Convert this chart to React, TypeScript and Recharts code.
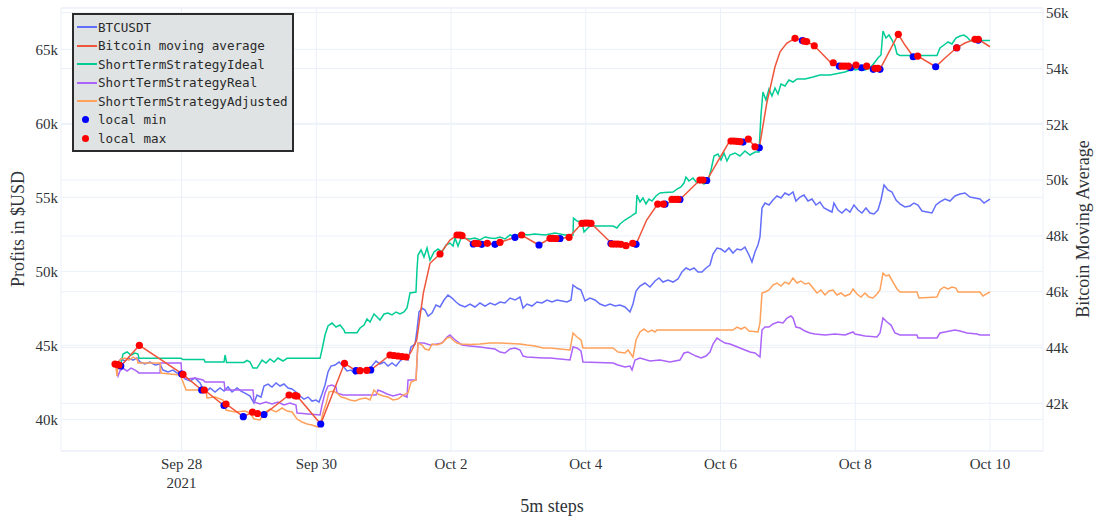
import React from "react";
import { ComposedChart, Line, Scatter, XAxis, YAxis, CartesianGrid } from "recharts";

// x values are days since Sep 28 2021 00:00
const dateTicks = [0, 2, 4, 6, 8, 10, 12];
const dateLabels = ["Sep 28", "Sep 30", "Oct 2", "Oct 4", "Oct 6", "Oct 8", "Oct 10"];
const profitTicks = [40000, 45000, 50000, 55000, 60000, 65000];
const averageTicks = [42000, 44000, 46000, 48000, 50000, 52000, 54000, 56000];

const btcusdt: [number, number][] = [
  [-0.987, 43670], [-0.942, 43870], [-0.898, 44075], [-0.839, 43940], [-0.779, 44140], [-0.72, 44005],
  [-0.66, 44140], [-0.616, 43870], [-0.542, 43735], [-0.468, 43870], [-0.393, 43670], [-0.319, 43735],
  [-0.275, 43330], [-0.2, 43195], [-0.126, 43330], [-0.067, 43130], [-0.007, 43130], [0.052, 42725],
  [0.126, 42590], [0.2, 42790], [0.275, 42455], [0.319, 42050], [0.378, 41910], [0.423, 42115],
  [0.497, 41845], [0.571, 42115], [0.631, 41910], [0.69, 42185], [0.75, 41845], [0.824, 42115],
  [0.883, 41910], [0.942, 41775], [1.017, 41575], [1.076, 41100], [1.121, 41640], [1.18, 41505],
  [1.224, 42250], [1.284, 42385], [1.343, 42185], [1.403, 42455], [1.462, 42250], [1.521, 42385],
  [1.581, 42115], [1.64, 42050], [1.699, 41845], [1.759, 41575], [1.818, 41370], [1.878, 41505],
  [1.937, 41235], [1.996, 41305], [2.041, 41170], [2.085, 41710], [2.13, 42320], [2.174, 43195],
  [2.219, 43600], [2.278, 43670], [2.338, 43870], [2.397, 43600], [2.456, 43265], [2.516, 43330],
  [2.575, 43060], [2.634, 43195], [2.694, 43400], [2.768, 43330], [2.827, 43600], [2.887, 43940],
  [2.946, 43735], [3.006, 43870], [3.065, 43600], [3.124, 43805], [3.184, 43600], [3.243, 43940],
  [3.302, 44140], [3.362, 44005], [3.406, 44885], [3.466, 45090], [3.495, 46035], [3.525, 47250],
  [3.569, 47520], [3.614, 47385], [3.659, 46980], [3.718, 47185], [3.777, 47725], [3.837, 47590],
  [3.896, 48060], [3.955, 48400], [4.015, 48195], [4.074, 47925], [4.133, 47725], [4.208, 47590],
  [4.282, 47790], [4.356, 47590], [4.43, 47860], [4.505, 47655], [4.579, 47860], [4.653, 47725],
  [4.727, 47925], [4.801, 47860], [4.876, 48195], [4.95, 48060], [5.024, 48265], [5.069, 47520],
  [5.128, 47790], [5.202, 47655], [5.276, 47925], [5.351, 47860], [5.425, 48060], [5.499, 47925],
  [5.573, 48060], [5.647, 47995], [5.722, 47925], [5.781, 48060], [5.811, 49075], [5.87, 48870],
  [5.929, 48735], [5.989, 47995], [6.063, 48195], [6.137, 48060], [6.211, 47790], [6.286, 47655],
  [6.36, 47790], [6.434, 47655], [6.508, 47725], [6.582, 47590], [6.657, 47250], [6.701, 47790],
  [6.746, 48670], [6.805, 49005], [6.879, 49210], [6.953, 48940], [7.028, 49345], [7.087, 49550],
  [7.146, 49275], [7.221, 49410], [7.295, 49275], [7.369, 49480], [7.428, 49955], [7.488, 50225],
  [7.547, 50090], [7.607, 50225], [7.666, 49955], [7.725, 49955], [7.785, 50225], [7.844, 50425],
  [7.889, 51170], [7.948, 51575], [8.007, 51505], [8.067, 51305], [8.126, 51575], [8.185, 51235],
  [8.245, 51505], [8.304, 51440], [8.363, 51640], [8.423, 51100], [8.467, 50630], [8.512, 51305],
  [8.556, 51775], [8.586, 52320], [8.616, 54275], [8.66, 54615], [8.72, 54480], [8.779, 54820],
  [8.838, 55090], [8.898, 54955], [8.957, 55290], [9.016, 55155], [9.076, 55360], [9.12, 54750],
  [9.18, 55020], [9.239, 55155], [9.299, 54750], [9.358, 54885], [9.417, 54480], [9.477, 54685],
  [9.536, 54275], [9.595, 54140], [9.655, 54005], [9.684, 54615], [9.744, 54140], [9.803, 53940],
  [9.863, 54210], [9.922, 54005], [9.981, 54480], [10.041, 54140], [10.1, 53940], [10.159, 54275],
  [10.219, 53940], [10.278, 53870], [10.337, 54140], [10.382, 54820], [10.427, 55830], [10.486, 55495],
  [10.545, 55360], [10.605, 54820], [10.664, 54550], [10.738, 54345], [10.813, 54415], [10.872, 54615],
  [10.931, 54480], [10.991, 54075], [11.065, 54005], [11.139, 53940], [11.198, 54480], [11.258, 54685],
  [11.332, 54885], [11.406, 54750], [11.48, 55090], [11.555, 55225], [11.629, 55290], [11.703, 55020],
  [11.777, 54955], [11.851, 54885], [11.911, 54615], [11.955, 54750], [12.0, 54885],
];

const movingAverage: [number, number][] = [
  [-0.987, 43409], [-0.957, 43391], [-0.928, 43373], [-0.902, 43337], [-0.626, 44079], [0.022, 43039],
  [0.3, 42477], [0.338, 42477], [0.631, 41921], [0.66, 41975], [0.917, 41520], [1.054, 41681],
  [1.128, 41634], [1.224, 41599], [1.596, 42297], [1.685, 42272], [1.714, 42262], [2.066, 41258],
  [2.419, 43434], [2.59, 43168], [2.649, 43168], [2.749, 43183], [2.808, 43194], [3.095, 43731],
  [3.362, 43659], [3.421, 43910], [3.491, 44269], [3.589, 45953], [3.688, 47018], [3.837, 47351],
  [3.985, 47853], [4.089, 48032], [4.163, 48014], [4.331, 47710], [4.43, 47728], [4.539, 47735],
  [4.653, 47699], [4.727, 47771], [4.95, 47950], [5.049, 48032], [5.173, 47853], [5.306, 47674],
  [5.47, 47914], [5.618, 47907], [5.752, 47950], [5.944, 48452], [6.078, 48452], [6.211, 48140],
  [6.36, 47792], [6.523, 47699], [6.597, 47649], [6.697, 47735], [6.746, 47699], [6.904, 48570],
  [7.068, 49143], [7.176, 49143], [7.369, 49312], [7.398, 49305], [7.695, 50003], [7.795, 49986],
  [7.943, 50602], [8.116, 51319], [8.156, 51401], [8.334, 51376], [8.413, 51473], [8.512, 51197],
  [8.576, 51161], [8.686, 52753], [8.809, 54064], [8.884, 54602], [8.982, 54903], [9.106, 55082],
  [9.279, 54968], [9.392, 54817], [9.625, 54244], [9.674, 54208], [9.763, 54090], [9.897, 54090],
  [9.932, 54029], [10.011, 54125], [10.095, 54029], [10.17, 54090], [10.268, 53971], [10.367, 53971],
  [10.516, 54663], [10.639, 55226], [10.738, 54842], [10.861, 54423], [10.927, 54448], [11.194, 54064],
  [11.332, 54376], [11.506, 54745], [11.629, 54914], [11.777, 55046], [11.826, 55046], [12.0, 54781],
];

const strategyIdeal: [number, number][] = [
  [-0.898, 43805], [-0.868, 44410], [-0.809, 44550], [-0.75, 44345], [-0.69, 44480], [-0.646, 44410],
  [-0.631, 44120], [-0.007, 44120], [0.022, 44040], [0.334, 44040], [0.349, 43870], [0.631, 43870],
  [0.646, 44345], [0.668, 43840], [0.928, 43840], [0.972, 43975], [1.017, 43870], [1.061, 43465],
  [1.121, 43465], [1.195, 44005], [1.254, 43805], [1.314, 44075], [1.373, 43870], [1.432, 44140],
  [1.506, 43940], [1.566, 44120], [2.056, 44120], [2.1, 45020], [2.13, 45695], [2.174, 46305],
  [2.234, 46505], [2.293, 46235], [2.353, 46370], [2.412, 46035], [2.427, 45850], [2.605, 45850],
  [2.65, 46170], [2.709, 46370], [2.753, 46775], [2.798, 46575], [2.857, 47115], [2.902, 46910],
  [2.946, 46710], [3.006, 47115], [3.065, 47185], [3.124, 47050], [3.184, 47250], [3.243, 47115],
  [3.302, 47250], [3.347, 47520], [3.377, 48195], [3.391, 48535], [3.48, 48600], [3.495, 50090],
  [3.51, 51100], [3.555, 51440], [3.599, 50965], [3.644, 51575], [3.688, 50765], [3.748, 51305],
  [3.807, 51505], [3.866, 51305], [3.926, 51775], [3.985, 51910], [4.03, 51710], [4.059, 52250],
  [4.104, 51710], [4.148, 52250], [4.208, 52215], [4.282, 52185], [4.356, 52250], [4.43, 52115],
  [4.505, 52320], [4.579, 52250], [4.653, 52215], [4.727, 52320], [4.801, 52185], [4.876, 52455],
  [4.95, 52320], [5.024, 52590], [5.128, 52455], [5.247, 52520], [5.395, 52455], [5.544, 52590],
  [5.692, 52455], [5.811, 52455], [5.818, 53600], [5.87, 53400], [5.944, 53330], [5.974, 52655],
  [6.018, 52860], [6.063, 53060], [6.404, 53060], [6.463, 52925], [6.508, 53195], [6.582, 53467],
  [6.657, 53670], [6.716, 53870], [6.746, 53940], [6.76, 55155], [6.805, 54685], [6.849, 54955],
  [6.894, 54550], [6.938, 54885], [6.983, 54750], [7.042, 55090], [7.102, 55290], [7.176, 55325],
  [7.295, 55360], [7.354, 55560], [7.413, 55695], [7.458, 55965], [7.488, 56370], [7.532, 56100],
  [7.592, 56305], [7.651, 55965], [7.696, 56100], [7.755, 55900], [7.814, 56100], [7.859, 56845],
  [7.904, 57790], [7.963, 57925], [8.007, 57520], [8.052, 57995], [8.096, 57455], [8.141, 57860],
  [8.215, 57995], [8.289, 57790], [8.363, 58130], [8.438, 57860], [8.512, 58060], [8.571, 58060],
  [8.601, 60560], [8.63, 62115], [8.675, 61575], [8.72, 62320], [8.764, 61845], [8.809, 62385],
  [8.853, 61980], [8.898, 62655], [8.957, 62520], [9.016, 62926], [9.076, 62790], [9.135, 62995],
  [9.254, 62995], [9.373, 63130], [9.477, 63265], [9.625, 63265], [9.773, 63400], [9.848, 63465],
  [9.922, 63600], [9.967, 63870], [9.996, 63600], [10.07, 63670], [10.145, 63600], [10.219, 63735],
  [10.293, 64145], [10.337, 64415], [10.382, 64615], [10.412, 66235], [10.456, 65765], [10.501, 65965],
  [10.545, 65630], [10.59, 65225], [10.62, 64685], [10.664, 64580], [11.213, 64580], [11.258, 65090],
  [11.317, 65290], [11.377, 65495], [11.436, 65360], [11.495, 65765], [11.555, 65900], [11.614, 65965],
  [11.659, 65830], [11.703, 65595], [12.0, 65595],
];

const strategyReal: [number, number][] = [
  [-0.972, 43535], [-0.942, 42925], [-0.913, 43265], [-0.868, 43465], [-0.809, 43265], [-0.75, 43465],
  [-0.69, 43330], [-0.646, 43195], [-0.638, 43130], [-0.319, 43130], [-0.312, 43805], [-0.007, 43805],
  [0.007, 42860], [0.082, 42725], [0.2, 42790], [0.319, 42655], [0.349, 42520], [0.631, 42520],
  [0.646, 41980], [1.061, 41980], [1.076, 41170], [1.165, 41035], [1.254, 41170], [1.343, 41035],
  [1.432, 41170], [1.521, 40965], [1.61, 41100], [1.699, 40965], [1.714, 40425], [2.056, 40290],
  [2.085, 40965], [2.13, 41775], [2.174, 42250], [2.234, 42320], [2.293, 42185], [2.308, 41775],
  [2.397, 41640], [2.887, 41640], [2.916, 41980], [2.991, 41845], [3.05, 41710], [3.139, 41575],
  [3.243, 41710], [3.347, 41505], [3.362, 42655], [3.481, 42655], [3.495, 44005], [3.51, 45155],
  [3.599, 45155], [3.688, 45020], [3.792, 45090], [3.866, 45155], [3.941, 45560], [3.985, 45695],
  [4.045, 45425], [4.104, 45225], [4.163, 45020], [4.282, 44955], [4.43, 44885], [4.534, 44820],
  [4.653, 44750], [4.727, 44545], [4.801, 44480], [4.876, 44750], [4.95, 44820], [5.024, 44683],
  [5.069, 44275], [5.128, 44210], [5.247, 44175], [5.366, 44140], [5.47, 44140], [5.618, 44075],
  [5.766, 44005], [5.811, 44885], [5.87, 44820], [5.929, 44615], [5.959, 43870], [6.404, 43805],
  [6.478, 43670], [6.582, 43535], [6.657, 43600], [6.687, 43330], [6.731, 44005], [6.805, 44140],
  [6.953, 43940], [7.102, 44005], [7.25, 43870], [7.398, 44005], [7.458, 44480], [7.518, 44545],
  [7.577, 44410], [7.636, 44275], [7.711, 44140], [7.785, 44275], [7.844, 44545], [7.889, 45090],
  [7.948, 45495], [7.993, 45358], [8.067, 45155], [8.141, 45090], [8.215, 44955], [8.289, 44820],
  [8.363, 44683], [8.438, 44545], [8.512, 44480], [8.586, 44210], [8.616, 46035], [8.66, 46235],
  [8.72, 46235], [8.779, 46440], [8.853, 46575], [8.928, 46505], [8.987, 46845], [9.046, 46980],
  [9.076, 46845], [9.12, 46235], [9.18, 46170], [9.254, 45965], [9.328, 45830], [9.402, 45765],
  [9.551, 45695], [9.699, 45765], [9.848, 45695], [9.967, 45900], [9.996, 45765], [10.145, 45630],
  [10.323, 45560], [10.367, 45830], [10.412, 46845], [10.471, 46575], [10.531, 46370], [10.59, 45830],
  [10.664, 45695], [10.916, 45695], [10.931, 45495], [11.213, 45495], [11.258, 45830], [11.332, 45900],
  [11.406, 45965], [11.48, 46035], [11.555, 45965], [11.659, 45830], [11.807, 45765], [11.851, 45695],
  [12.0, 45695],
];

const strategyAdjusted: [number, number][] = [
  [-0.972, 43465], [-0.957, 42925], [-0.942, 43870], [-0.898, 44075], [-0.839, 44140], [-0.779, 44005],
  [-0.72, 44210], [-0.66, 44075], [-0.646, 43805], [-0.319, 43805], [-0.304, 43130], [-0.171, 43060],
  [-0.022, 42995], [0.022, 42520], [0.067, 41980], [0.364, 41980], [0.378, 41440], [0.497, 41505],
  [0.616, 41305], [0.66, 40630], [0.794, 40495], [0.942, 40560], [1.017, 40425], [1.076, 40020],
  [1.165, 39955], [1.224, 40425], [1.314, 40695], [1.403, 40495], [1.492, 40765], [1.566, 40560],
  [1.64, 40495], [1.714, 40020], [1.788, 39820], [1.863, 39680], [1.937, 39615], [2.026, 39480],
  [2.056, 39615], [2.1, 40425], [2.145, 41035], [2.189, 41845], [2.249, 41910], [2.308, 41775],
  [2.367, 41505], [2.427, 41440], [2.501, 41305], [2.575, 41235], [2.649, 41370], [2.738, 41440],
  [2.798, 41305], [2.857, 41980], [2.916, 41710], [2.991, 41575], [3.065, 41505], [3.139, 41305],
  [3.213, 41370], [3.287, 41640], [3.362, 41775], [3.406, 42520], [3.481, 42655], [3.495, 44005],
  [3.51, 45155], [3.569, 45020], [3.614, 44750], [3.673, 44683], [3.718, 45090], [3.792, 45020],
  [3.866, 45155], [3.941, 45495], [3.985, 45560], [4.045, 45290], [4.089, 45155], [4.134, 45090],
  [4.282, 45055], [4.43, 45090], [4.579, 45155], [4.727, 45155], [4.876, 45120], [5.024, 45090],
  [5.128, 45020], [5.247, 44955], [5.366, 44820], [5.47, 44820], [5.618, 44750], [5.766, 44683],
  [5.811, 45830], [5.87, 45560], [5.929, 45358], [5.959, 44820], [6.404, 44820], [6.478, 44545],
  [6.582, 44480], [6.627, 44683], [6.701, 44210], [6.746, 45358], [6.805, 45900], [6.864, 46100],
  [6.924, 45900], [6.983, 46035], [7.028, 45900], [7.057, 46035], [8.185, 46035], [8.245, 46235],
  [8.304, 46100], [8.363, 46235], [8.423, 45965], [8.556, 45900], [8.586, 46505], [8.616, 48535],
  [8.66, 48600], [8.72, 48737], [8.779, 49075], [8.838, 49210], [8.898, 49005], [8.957, 49275],
  [9.016, 49140], [9.076, 49550], [9.135, 49210], [9.194, 49345], [9.254, 49140], [9.313, 49210],
  [9.373, 48870], [9.432, 48535], [9.491, 48737], [9.551, 48400], [9.61, 48670], [9.669, 48737],
  [9.729, 48400], [9.788, 48535], [9.848, 48330], [9.922, 48465], [9.967, 48805], [10.026, 48465],
  [10.085, 48265], [10.145, 48535], [10.204, 48265], [10.264, 48195], [10.323, 48465], [10.367, 48737],
  [10.412, 49885], [10.456, 49685], [10.501, 49750], [10.56, 49275], [10.62, 48805], [10.664, 48600],
  [10.916, 48600], [10.946, 48195], [11.213, 48265], [11.258, 48737], [11.317, 48940], [11.377, 48805],
  [11.436, 48940], [11.495, 48870], [11.525, 48600], [11.851, 48600], [11.896, 48330], [11.941, 48465],
  [12.0, 48600],
];

const localMin: [number, number][] = [
  [-0.902, 43337], [0.003, 43050], [0.3, 42477], [0.631, 41921], [0.917, 41520], [1.224, 41599],
  [2.066, 41258], [2.59, 43168], [2.808, 43194], [4.331, 47710], [4.455, 47699], [4.653, 47699],
  [4.95, 47950], [5.306, 47674], [5.618, 47907], [6.374, 47728], [6.746, 47699], [7.176, 49143],
  [7.398, 49305], [7.795, 49986], [8.334, 51365], [8.576, 51161], [9.215, 55004], [9.763, 54090],
  [9.932, 54029], [10.095, 54029], [10.268, 53971], [10.367, 53971], [10.861, 54423], [11.194, 54064],
  [11.506, 54745], [11.826, 55021],
];

const localMax: [number, number][] = [
  [-0.987, 43409], [-0.957, 43391], [-0.928, 43373], [-0.626, 44079], [0.022, 43039], [0.338, 42477],
  [0.66, 41975], [1.054, 41681], [1.128, 41634], [1.596, 42297], [1.685, 42272], [1.714, 42262],
  [2.419, 43434], [2.649, 43168], [2.749, 43183], [3.095, 43731], [3.154, 43713], [3.213, 43695],
  [3.273, 43677], [3.332, 43659], [3.837, 47351], [4.089, 48032], [4.134, 48032], [4.163, 48014],
  [4.356, 47735], [4.401, 47728], [4.539, 47735], [4.727, 47771], [5.049, 48032], [5.47, 47914],
  [5.514, 47914], [5.558, 47907], [5.752, 47950], [5.944, 48452], [5.989, 48462], [6.033, 48462],
  [6.078, 48452], [6.389, 47710], [6.434, 47710], [6.478, 47710], [6.523, 47699], [6.597, 47649],
  [6.697, 47735], [7.068, 49143], [7.151, 49143], [7.28, 49312], [7.325, 49312], [7.369, 49312],
  [7.695, 50003], [7.74, 50003], [8.156, 51401], [8.2, 51401], [8.245, 51390], [8.289, 51383],
  [8.413, 51473], [8.512, 51197], [9.106, 55082], [9.239, 54985], [9.279, 54968], [9.392, 54817],
  [9.674, 54208], [9.803, 54090], [9.848, 54090], [9.897, 54090], [10.011, 54125], [10.17, 54090],
  [10.293, 54007], [10.337, 54007], [10.639, 55226], [10.927, 54448], [11.506, 54745], [11.777, 55046],
  [11.826, 55046],
];

const toPoints = (rows: [number, number][]) => rows.map(([t, v]) => ({ t, v }));

const serif = '"Liberation Serif", "Times New Roman", serif';
const mono = '"DejaVu Sans Mono", "Liberation Mono", monospace';
const textColor = "#2f3338";
const gridColor = "#ebf0f8";

const legendItems = [
  { name: "BTCUSDT", color: "#636efa", dot: false },
  { name: "Bitcoin moving average", color: "#ef553b", dot: false },
  { name: "ShortTermStrategyIdeal", color: "#00cc96", dot: false },
  { name: "ShortTermStrategyReal", color: "#ab63fa", dot: false },
  { name: "ShortTermStrategyAdjusted", color: "#ffa15a", dot: false },
  { name: "local min", color: "#0000ff", dot: true },
  { name: "local max", color: "#ff0000", dot: true },
];

const kFormat = (v: number) => `${Math.round(v / 1000)}k`;

const DateTick = ({ x, y, payload }: any) => {
  const idx = dateTicks.indexOf(payload.value);
  return (
    <g>
      <text x={x} y={y + 16} textAnchor="middle" fontFamily={serif} fontSize={15} fill={textColor}>
        {dateLabels[idx]}
      </text>
      {idx === 0 && (
        <text x={x} y={y + 35} textAnchor="middle" fontFamily={serif} fontSize={15} fill={textColor}>
          2021
        </text>
      )}
    </g>
  );
};

const dotShape = (color: string) => (props: any) =>
  <circle cx={props.cx} cy={props.cy} r={3.6} fill={color} />;

export default function App() {
  return (
    <div style={{ position: "absolute", left: 0, top: 0, width: 1096, height: 520, background: "#fff" }}>
      <ComposedChart width={1096} height={520} margin={{ top: 8, right: 0, bottom: 0, left: 0 }}>
        <CartesianGrid yAxisId="left" stroke={gridColor} strokeWidth={1} />
        <CartesianGrid yAxisId="right" stroke={gridColor} strokeWidth={1} vertical={false} />
        <XAxis
          type="number"
          dataKey="t"
          domain={[-1.789, 12.787]}
          allowDataOverflow
          ticks={dateTicks}
          interval={0}
          height={69}
          axisLine={false}
          tickLine={false}
          tickSize={0}
          tick={<DateTick />}
        />
        <YAxis
          yAxisId="left"
          dataKey="v"
          type="number"
          domain={[37860, 67790]}
          allowDataOverflow
          ticks={profitTicks}
          width={61}
          axisLine={false}
          tickLine={false}
          tickSize={0}
          tickMargin={3}
          tickFormatter={kFormat}
          tick={{ fontFamily: serif, fontSize: 15, fill: textColor }}
        />
        <YAxis
          yAxisId="right"
          orientation="right"
          dataKey="v"
          type="number"
          domain={[40290, 56170]}
          allowDataOverflow
          ticks={averageTicks}
          width={53}
          axisLine={false}
          tickLine={false}
          tickSize={0}
          tickMargin={3}
          tickFormatter={kFormat}
          tick={{ fontFamily: serif, fontSize: 15, fill: textColor }}
        />
        <Line yAxisId="left" data={toPoints(btcusdt)} dataKey="v" stroke="#636efa" strokeWidth={1.5} dot={false} isAnimationActive={false} />
        <Line yAxisId="left" data={toPoints(strategyIdeal)} dataKey="v" stroke="#00cc96" strokeWidth={1.5} dot={false} isAnimationActive={false} />
        <Line yAxisId="left" data={toPoints(strategyReal)} dataKey="v" stroke="#ab63fa" strokeWidth={1.5} dot={false} isAnimationActive={false} />
        <Line yAxisId="left" data={toPoints(strategyAdjusted)} dataKey="v" stroke="#ffa15a" strokeWidth={1.5} dot={false} isAnimationActive={false} />
        <Line yAxisId="right" data={toPoints(movingAverage)} dataKey="v" stroke="#ef553b" strokeWidth={1.5} dot={false} isAnimationActive={false} />
        <Scatter yAxisId="right" data={toPoints(localMin)} dataKey="v" fill="#0000ff" shape={dotShape("#0000ff")} isAnimationActive={false} />
        <Scatter yAxisId="right" data={toPoints(localMax)} dataKey="v" fill="#ff0000" shape={dotShape("#ff0000")} isAnimationActive={false} />
      </ComposedChart>

      {/* axis titles */}
      <div style={{ position: "absolute", left: 18, top: 229, transform: "translate(-50%, -50%) rotate(-90deg)", whiteSpace: "nowrap", fontFamily: serif, fontSize: 18, color: textColor }}>
        Profits in $USD
      </div>
      <div style={{ position: "absolute", left: 1083, top: 229, transform: "translate(-50%, -50%) rotate(-90deg)", whiteSpace: "nowrap", fontFamily: serif, fontSize: 18, color: textColor }}>
        Bitcoin Moving Average
      </div>
      <div style={{ position: "absolute", left: 552, top: 506, transform: "translate(-50%, -50%)", whiteSpace: "nowrap", fontFamily: serif, fontSize: 18, color: textColor }}>
        5m steps
      </div>

      {/* legend */}
      <div style={{ position: "absolute", left: 72, top: 13, width: 222, height: 139, boxSizing: "border-box", border: "2px solid #2b2b2b", background: "#dfe3e4", paddingTop: 3 }}>
        {legendItems.map((item) => (
          <div key={item.name} style={{ position: "relative", height: 18.5, display: "flex", alignItems: "center" }}>
            {item.dot ? (
              <span style={{ position: "absolute", left: 8, width: 7, height: 7, borderRadius: "50%", background: item.color }} />
            ) : (
              <span style={{ position: "absolute", left: 3, width: 20, height: 2, background: item.color }} />
            )}
            <span style={{ position: "absolute", left: 24, fontFamily: mono, fontSize: 12.6, color: "#2a2a2a", whiteSpace: "nowrap" }}>
              {item.name}
            </span>
          </div>
        ))}
      </div>
    </div>
  );
}
